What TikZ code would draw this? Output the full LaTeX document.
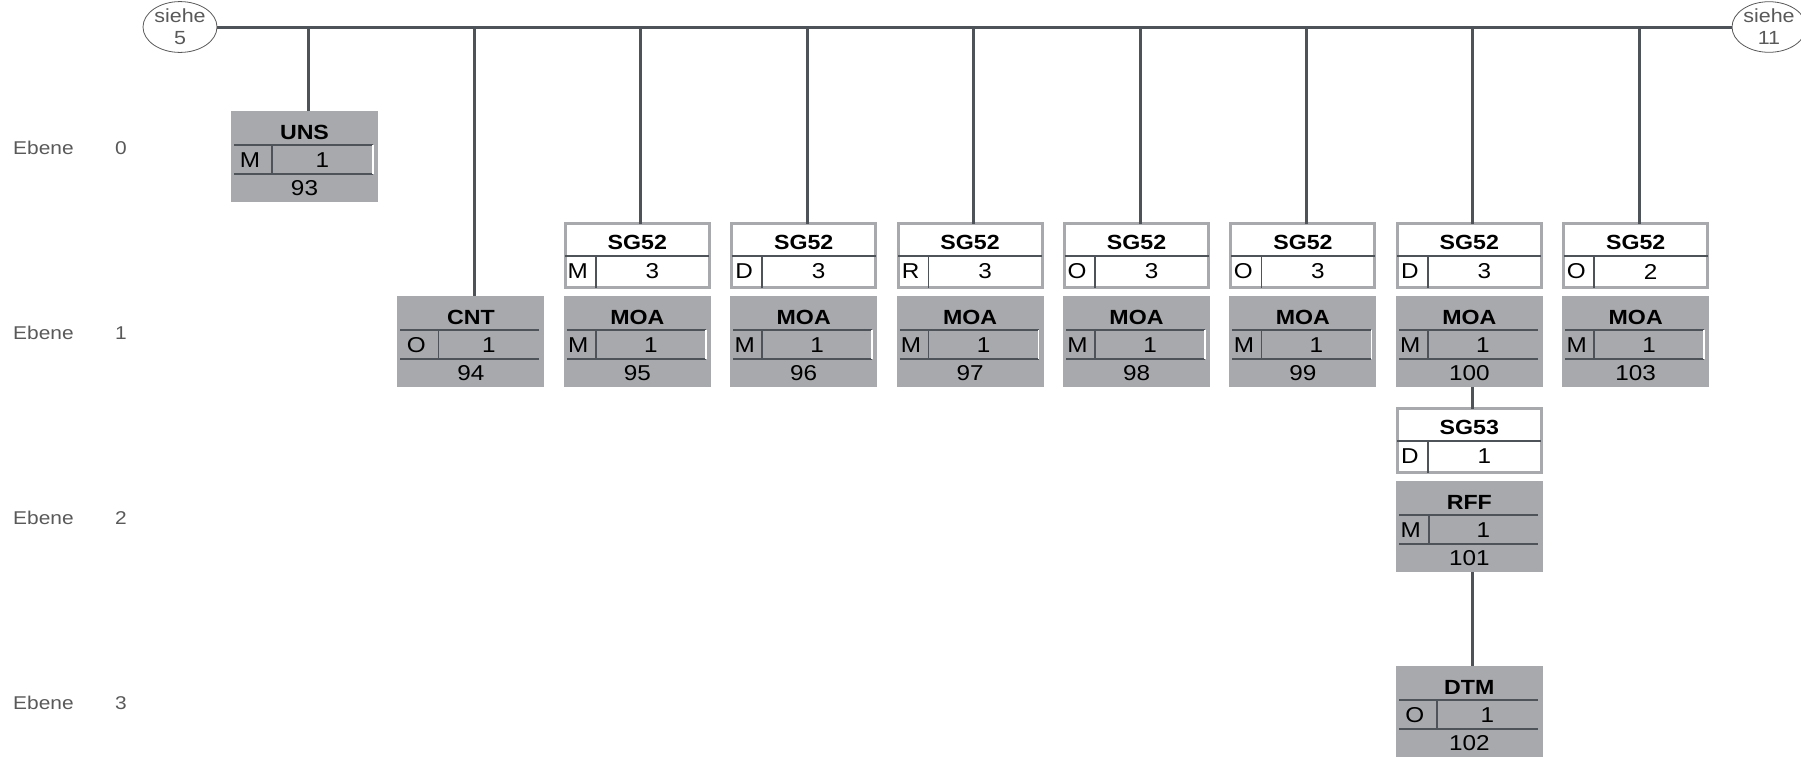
\documentclass[tikz,border=0pt]{standalone}
\usepackage{fontspec}
\setmainfont{Liberation Sans}[FakeStretch=1.13]
\newfontfamily\segbold{Liberation Sans Bold}[FakeStretch=1.13]
\usetikzlibrary{positioning, calc, shapes.geometric}
\definecolor{boxGray}{RGB}{167, 169, 172}
\definecolor{lineGray}{RGB}{77, 83, 88}
\definecolor{textGray}{RGB}{89, 89, 89}

\begin{document}
\begin{tikzpicture}[
    x=1pt, y=-1pt,
    conn/.style={lineGray, line width=3pt},
    inner/.style={lineGray, line width=1.5pt},
    edgeW/.style={white, line width=1.5pt},
    edgeN/.style={draw=none},
    segbox/.style={rectangle, fill=boxGray, minimum width=147pt, minimum height=91pt,
                   inner sep=0pt, outer sep=0pt, anchor=north west},
    grpbox/.style={rectangle, draw=boxGray, line width=3pt, fill=white, minimum width=144pt,
                   minimum height=64pt, inner sep=0pt, outer sep=0pt, anchor=north west},
    title/.style={inner sep=0pt, font=\segbold\fontsize{20.5}{23}\selectfont},
    cell/.style={inner sep=0pt, font=\fontsize{21.5}{24}\selectfont},
    level/.style={inner sep=0pt, text=textGray, font=\fontsize{18.5}{21}\selectfont},
    ref/.style={ellipse, draw=textGray, line width=0.8pt, fill=white, minimum width=74pt,
                minimum height=48pt, inner sep=0pt, align=center, text=textGray,
                font=\fontsize{19}{22}\selectfont},
  ]
    \useasboundingbox (0,0) rectangle (1801,756);

    % Ebene
    \foreach \lv in {0,...,3} {
      \node[level, anchor=west] (eb\lv) at (13,148+185*\lv) {Ebene};
      \node[level] (nr\lv) at (121,148+185*\lv) {\lv};
    }

    % siehe
    \node[ref] (s5) at (180,27) {siehe\\5};
    \node[ref] (s11) at (1769,27) {siehe\\11};

    % Segments
    \foreach \nm/\L/\T/\ttl/\st/\ct/\nr/\dv/\rc in {
        uns/231/111/UNS/M/1/93/41/edgeW,
        cnt/397.4/296/CNT/O/1/94/41/edgeN,
        moa95/563.8/296/MOA/M/1/95/32/edgeW,
        moa96/730.2/296/MOA/M/1/96/32/edgeW,
        moa97/896.6/296/MOA/M/1/97/32/edgeW,
        moa98/1063/296/MOA/M/1/98/32/edgeW,
        moa99/1229.4/296/MOA/M/1/99/32/edgeW,
        moa100/1395.8/296/MOA/M/1/100/32/edgeN,
        moa103/1562.2/296/MOA/M/1/103/32/edgeW,
        rff/1395.8/481/RFF/M/1/101/33/edgeN,
        dtm/1395.8/666/DTM/O/1/102/41/edgeN} {
      \node[segbox] (\nm) at (\L,\T) {};
      \node[title] (\nm-t) at ($(\nm.north west)+(73.5,21)$) {\ttl};
      \draw[inner] ($(\nm.north west)+(3,34)$) -- ++(139,0);
      \draw[inner] ($(\nm.north west)+(3,63)$) -- ++(139,0);
      \draw[inner] ($(\nm.north west)+(\dv,34)$) -- ++(0,29);
      \draw[\rc] ($(\nm.north west)+(142,34)$) -- ++(0,29);
      \node[cell] (\nm-s) at ($(\nm.north west)+(\dv/2-1.5,49)$) {\st};
      \node[cell] (\nm-c) at ($(\nm.north west)+(\dv/2+71,49)$) {\ct};
      \node[cell] (\nm-n) at ($(\nm.north west)+(73.5,77.5)$) {\nr};
    }

    % Segment groups
    \foreach \nm/\L/\T/\ttl/\st/\ct in {
        sg95/563.8/222/SG52/M/3,
        sg96/730.2/222/SG52/D/3,
        sg97/896.6/222/SG52/R/3,
        sg98/1063/222/SG52/O/3,
        sg99/1229.4/222/SG52/O/3,
        sg100/1395.8/222/SG52/D/3,
        sg103/1562.2/222/SG52/O/2,
        sg101/1395.8/407/SG53/D/1} {
      \node[grpbox] (\nm) at (\L+1.5,\T+1.5) {};
      \node[title] (\nm-t) at ($(\nm.north west)+(72,18.5)$) {\ttl};
      \draw[inner] ($(\nm.north west)+(0,32.5)$) -- ++(144,0);
      \draw[inner] ($(\nm.north west)+(30.5,32.5)$) -- ++(0,31.5);
      \node[cell] (\nm-s) at ($(\nm.north west)+(12.5,48)$) {\st};
      \node[cell] (\nm-c) at ($(\nm.north west)+(87,48)$) {\ct};
    }

    % Connectors
    \draw[conn] (s5.east) -- (s11.west);
    \foreach \nm in {uns, cnt, sg95, sg96, sg97, sg98, sg99, sg100, sg103} {
      \draw[conn] ($(\nm.north)+(3.5,0)$) -- ($(\nm.north |- s5.east)+(3.5,0)$);
    }
    \draw[conn] ($(moa100.south)+(3.5,0)$) -- ($(sg101.north)+(3.5,0)$);
    \draw[conn] ($(rff.south)+(3.5,0)$) -- ($(dtm.north)+(3.5,0)$);
  \end{tikzpicture}
\end{document}
